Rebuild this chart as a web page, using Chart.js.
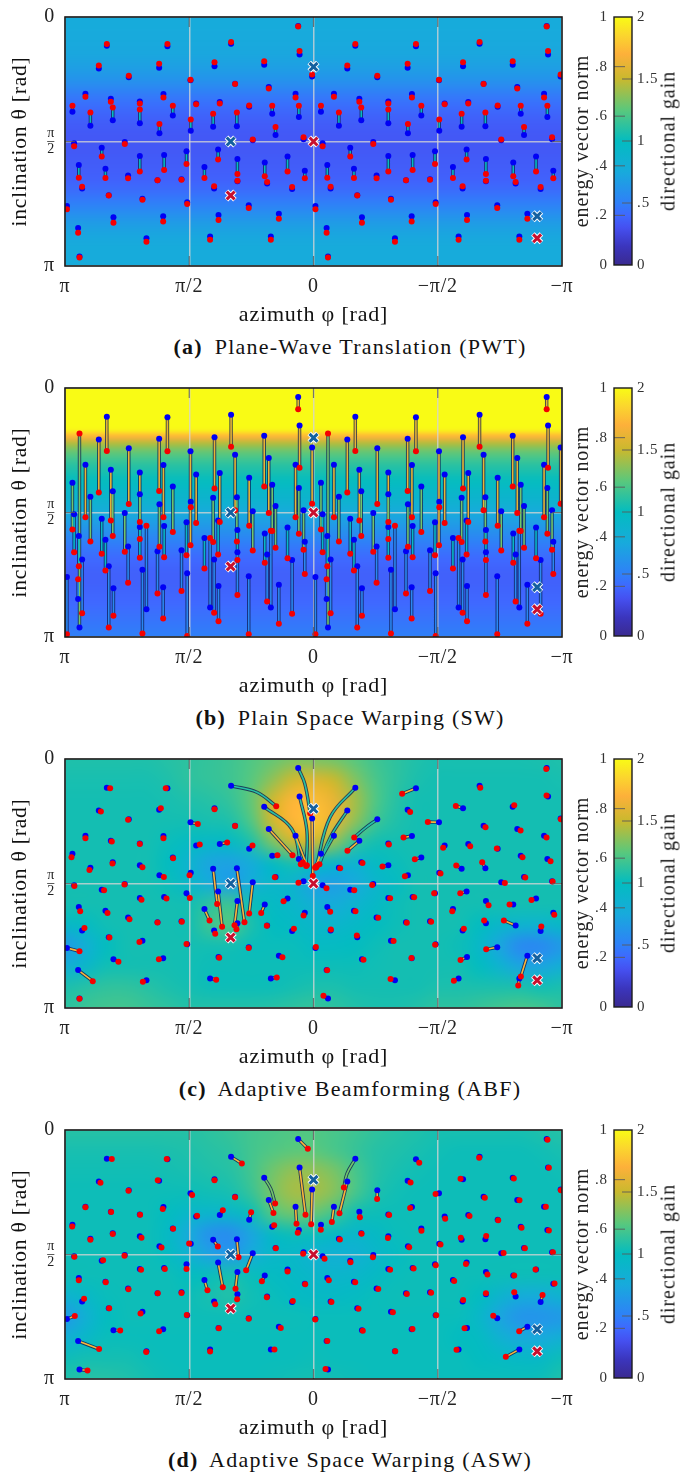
<!DOCTYPE html>
<html>
<head>
<meta charset="utf-8">
<title>Energy vector panels</title>
<script src="https://cdn.jsdelivr.net/npm/chart.js@4"></script>
<style>
body { margin: 0; background: #fff; }
#page { position: relative; width: 683px; height: 1472px; overflow: hidden; }
#page canvas { position: absolute; }
.caption { position: absolute; left: 0; width: 700px; height: 26px; line-height: 26px; text-align: center;
           font: 22px "Liberation Serif", serif; letter-spacing: 1.25px; color: #111; white-space: nowrap; }
.caption b { margin-right: 5px; }
.gain-title { position: absolute; left: 668px; font: 20px "Liberation Serif", serif; letter-spacing: .95px; color: #222;
              white-space: nowrap; transform: translate(-50%, -50%) rotate(-90deg); }
</style>
</head>
<body>
<div id="page"></div>
<script>
// azimuth and inclination are in degrees, the axes label them in radians
const xTickValues = [180, 90, 0, -90, -180];
const xTickLabels = ["π", "π/2", "0", "−π/2", "−π"];
const yTickValues = [0, 90, 180];
const yTickLabels = ["0", ["π", "–", "2"], "π"];
const normTicks = [0, .2, .4, .6, .8, 1];
const normLabels = ["0", ".2", ".4", ".6", ".8", "1"];
const gainTicks = [0, .5, 1, 1.5, 2];
const gainLabels = ["0", ".5", "1", "1.5", "2"];
const captionTags = ["(a)", "(b)", "(c)", "(d)"];
const captionTexts = ["Plane-Wave Translation (PWT)", "Plain Space Warping (SW)", "Adaptive Beamforming (ABF)", "Adaptive Space Warping (ASW)"];

// the two sound sources (blue) and the two sinks (red)
const crossBluePhi = [0, 60, -162];
const crossBlueTheta = [36, 90, 144];
const crossRedPhi = [0, 60, -162];
const crossRedTheta = [90, 129, 160];

// virtual loudspeaker layout, same in all four panels
const bluePhi = [
  11.1,10.1,35.7,71.7,59.7,105.8,149.7,169.5,155.5,111.8,
  133.8,89.1,56.8,32.4,1,165.2,108.7,13,146.8,125.8,
  67.9,85,174.6,29.9,101.9,145.4,10.6,46.6,125.8,161.6,
  55.5,72.7,111.6,88.9,27.5,173.4,136.7,44,153.4,69.1,
  7.2,125.8,92,108.2,55.1,18.8,170,150.7,35.3,79,
  6.3,134.3,95.6,55.1,113,33.6,72,167.6,15.5,148.3,
  123.9,91.5,46.9,178.6,144.9,108.9,68.8,25.1,170.5,121,74.9,30.9,
  -168.9,-169.9,-144.3,-108.3,-120.3,-74.2,-30.3,-10.5,-24.5,-68.2,
  -46.2,-90.9,-123.2,-147.6,-179,-14.8,-71.3,-167,-33.2,-54.2,
  -112.1,-95,-5.4,-150.1,-78.1,-34.6,-169.4,-133.4,-54.2,-18.4,
  -124.5,-107.3,-68.4,-91.1,-152.5,-6.6,-43.3,-136,-26.6,-110.9,
  -172.8,-54.2,-88,-71.8,-124.9,-161.2,-10,-29.3,-144.7,-101,
  -173.7,-45.7,-84.4,-124.9,-67,-146.4,-108,-12.4,-164.5,-31.7,
  -56.1,-88.5,-133.1,-1.4,-35.1,-71.1,-111.2,-154.9,-9.5,-59,-105.1,-149.1
];
const blueTheta = [
  6.5,27.1,34.6,35.6,19.4,21.1,20.8,173.2,37.3,36.6,
  43.6,45.8,48.2,50.6,43.1,55.5,55.7,55.5,59.1,61,
  61.5,62.5,68.5,70,71.2,74.6,72.2,64.9,76.8,78.7,
  79,79.4,84,82.3,85.3,91.3,90.3,89.1,94.5,95.7,
  88.4,100.5,97.1,99.8,102.7,100.8,107,109.7,105.1,108.5,
  111.2,114.6,117.2,118.7,118,120.4,124,124,124.3,128.8,
  131.3,133.9,136.1,136.6,144.8,144.1,143.1,142.2,152.6,160,158.6,158.6,
  6.5,27.1,34.6,35.6,19.4,21.1,20.8,173.2,37.3,36.6,
  43.6,45.8,48.2,50.6,43.1,55.5,55.7,55.5,59.1,61,
  61.5,62.5,68.5,70,71.2,74.6,72.2,64.9,76.8,78.7,
  79,79.4,84,82.3,85.3,91.3,90.3,89.1,94.5,95.7,
  88.4,100.5,97.1,99.8,102.7,100.8,107,109.7,105.1,108.5,
  111.2,114.6,117.2,118.7,118,120.4,124,124,124.3,128.8,
  131.3,133.9,136.1,136.6,144.8,144.1,143.1,142.2,152.6,160,158.6,158.6
];

// energy vector directions, panels a and b keep the azimuth of the loudspeaker
const redThetaA = [
  6.8,24.6,31.9,32.8,18.1,19.6,19.6,173.9,35,33.8,
  42.5,45.4,48.5,51.7,41.5,57.7,58.2,58.2,61.3,62.5,
  62.5,63,64.2,64.2,64.2,65.4,64.2,64,66.9,69,
  69,70,77.3,74.1,79.5,93.5,91.8,88.6,100.9,103.1,
  86.9,111.6,106.3,110.6,113.5,111.6,116.2,116.4,115.2,116.4,
  116.6,116.6,117.6,118.3,118.1,119.3,122.4,122.7,122.9,129,
  132.1,135.2,138.1,138.9,148.8,147.8,146.8,145.9,156,162.5,161.1,161.1,
  6.8,24.6,31.9,32.8,18.1,19.6,19.6,173.9,35,33.8,
  42.5,45.4,48.5,51.7,41.5,57.7,58.2,58.2,61.3,62.5,
  62.5,63,64.2,64.2,64.2,65.4,64.2,64,66.9,69,
  69,70,77.3,74.1,79.5,93.5,91.8,88.6,100.9,103.1,
  86.9,111.6,106.3,110.6,113.5,111.6,116.2,116.4,115.2,116.4,
  116.6,116.6,117.6,118.3,118.1,119.3,122.4,122.7,122.9,129,
  132.1,135.2,138.1,138.9,148.8,147.8,146.8,145.9,156,162.5,161.1,161.1
];
const redThetaB = [
  15.3,57.6,71.2,72.7,42.4,45.8,45.5,32.9,75.6,74.4,
  83.8,113.6,88.4,90.3,83.6,93.5,93.5,93.5,95.7,96.9,
  96.9,97.6,102.2,103.4,104.1,107,105.4,99.5,109.2,110.9,
  110.9,111.4,114.8,86.2,115.5,118.7,118.4,117.5,119.9,120.4,
  117,122.8,120.9,122.3,124.3,123,128.9,132,126.4,130.5,
  134.4,140.7,146.8,149.7,148.5,154.3,162.5,162.8,163.2,173.2,
  177.5,179.2,178,178,164.7,166.6,168.6,170.5,138.3,99.5,108.5,103.2,
  15.3,57.6,71.2,72.7,42.4,45.8,45.5,32.9,75.6,74.4,
  83.8,113.6,88.4,90.3,83.6,93.5,93.5,93.5,95.7,96.9,
  96.9,97.6,102.2,103.4,104.1,107,105.4,99.5,109.2,110.9,
  110.9,111.4,114.8,86.2,115.5,118.7,118.4,117.5,119.9,120.4,
  117,122.8,120.9,122.3,124.3,123,128.9,132,126.4,130.5,
  134.4,140.7,146.8,149.7,148.5,154.3,162.5,162.8,163.2,173.2,
  177.5,179.2,178,178,164.7,166.6,168.6,170.5,138.3,99.5,108.5,103.2
];
const redPhiC = [
  2.4,5.3,9.2,71.7,27,107,147.3,169.5,154,110.6,
  134.3,83.8,56.8,15.2,.5,165.2,108.7,4.8,146.1,125.8,
  62.5,82.4,175.3,26.1,101.7,145.6,7.7,44.2,123.9,162.3,
  50,69.8,108.4,89.8,28,173.2,136.9,46.6,151.7,66.2,
  10.9,124.6,89.6,106.5,57.2,21.7,169,149.2,37.9,75.3,
  7.2,133.3,95.4,55.8,113,33.8,71.2,165.9,14.2,147.8,
  126.1,92,46.9,169.5,141.3,112,68.3,22.5,159.9,123.6,70.5,26.6,
  -168.6,-168.8,-145.4,-103.1,-120.8,-64.2,-1.9,-7.2,-4.3,-70,
  -29.5,-82.8,-124.6,-150,-179.2,-2.4,-65.2,-168.8,-24.6,-54.6,
  -113.5,-93.9,-1.2,-151.4,-73.4,-35.5,-171.7,-132.8,-50,-19.3,
  -122.2,-103.4,-66.2,-92,-153.4,-9.4,-42.5,-138.6,-29.5,-106.3,
  -173.2,-55.5,-87.4,-72.9,-126.8,-157.9,-12.1,-30.4,-142,-100.5,
  -174.4,-46.9,-85.2,-123.6,-67.6,-137.9,-108.9,-12.6,-165,-31.4,
  -58,-88.1,-125.1,-1.7,-36.2,-71,-106.5,-150.2,-9.9,-55.8,-101.7,-148.3
];
const redThetaC = [
  39.2,77.3,76,36.3,34.1,21.1,21.1,173.4,38,35.6,
  44,47,48.4,69.5,84.5,57.2,57.2,76.8,59.6,61.5,
  60.3,61.8,71,69.5,71.7,75.6,74.8,62.5,78.2,80.2,
  118,104.9,85.3,84,85.5,91.8,90.8,111.6,94.9,121.3,
  89.4,101.7,100.5,100.8,120.1,102.9,110,111.4,111.4,116.7,
  113.1,115.8,117.7,123,118.2,120.6,126.4,122.1,122.8,129.1,
  132.2,133.7,136.6,139,146.5,144.8,143.6,143.4,160.6,161.1,159.6,157.9,
  7.3,26.4,33.4,33.9,20.8,25.2,78.5,171.2,76,38.3,
  56.7,45.5,49.4,51.6,43.6,77.3,56.7,56.7,66.4,61.8,
  63,64.2,78.5,71,72.4,75.1,73.9,64.7,77.7,79,
  74.6,77,84.8,82.8,85.7,93.5,91.1,89.6,94.9,97.1,
  88.6,100.7,97.1,100,105.8,102,110.4,110,105.1,110,
  112.6,114.8,117.7,116.7,118.4,116.7,122.8,123.3,121.1,127.6,
  131.5,134.2,137.6,135.9,145.1,143.9,145.3,157.2,152.8,159.1,160.3,163.7
];
const redPhiD = [
  4.1,5.8,27.8,71.7,51.9,106.3,146.1,163.7,154.3,112.8,
  134,87.9,56.8,29,1.7,165.2,109.2,12.3,146.6,125.6,
  65.7,84.3,174.8,28.5,101.7,145.4,11.4,45.2,124.6,161.6,
  54.3,69.3,110.1,90.1,27.3,173.2,136.9,48.8,152.4,65.7,
  7.5,124.9,92,107.7,56.5,18.8,170,150.5,37.4,76.8,
  6,134,95.6,55.3,112.8,33.8,71.2,166.2,15,148,
  125.3,91.8,46.9,172.9,140,111.8,68.6,23.7,155.3,121.2,74.9,28.3,
  -169.5,-170.5,-145.1,-106.5,-120,-76.6,-22,-8.7,-18.8,-70.3,
  -46.1,-88.4,-124.1,-149.2,-179.2,-13.3,-70,-168.3,-33.6,-54.8,
  -113,-95.4,-5.3,-150.7,-78.2,-34.8,-170.5,-133.8,-53.9,-19.1,
  -125.1,-106.7,-69.3,-92,-153.1,-8,-43,-137.7,-26.8,-110.4,
  -173.4,-55.5,-88.6,-72.5,-126,-160.8,-11.1,-30.2,-145.4,-101.9,
  -174.6,-46.9,-85.2,-124.9,-67.6,-145.4,-108.4,-13,-165.9,-32.6,
  -57.5,-88.9,-130.2,-1.2,-35.7,-71.7,-109.4,-149,-10,-59.2,-103.6,-139.3
];
const redThetaD = [
  13.5,61.2,53.2,36.3,24.2,21,21,173.9,38.2,36.3,
  44,46.9,48.6,60,68.2,55.9,57.1,67.7,59.3,61.2,
  58.1,62,69.7,68.9,71.4,75.2,74.3,59.5,77.9,79.3,
  91.9,84.2,84.9,82,85.4,91.7,90.9,101.4,94.1,113.7,
  89.5,101.1,100.4,100.4,114.7,102.3,108.6,110.1,109.3,115.9,
  111.5,115.1,117.8,122.4,118,120.9,126,121.9,123.6,128.9,
  132.6,133.8,136.4,134.5,144.9,145.4,143.4,143.2,158.4,160.4,160.1,158.7,
  7,27.3,35.1,35.3,20.1,23.7,41.6,172.7,60.2,38,
  49.8,46.2,48.9,50.8,43.5,66.5,56.4,55.4,63.1,61.4,
  62.2,64.1,72.1,70.6,72.8,75,72.6,65.3,78.1,79.1,
  76.7,77.9,84.7,82.7,85.4,93.1,91.9,89,95.6,96.8,
  88.3,101.1,97.7,100.1,104.5,100.9,108.6,110,105.2,109.1,
  111,114.9,117.6,118,118.5,117.3,122.9,124.3,119.3,129.2,
  131.8,134,134.2,136.9,145.1,143.9,143.4,145.4,152.6,159.9,158.9,164
];

// the paths that visibly bend get one point halfway
const bendIndexC = [0, 1, 2, 4, 78, 80, 82, 87];
const bendPhiC = [6.3, 4.8, 15.7, 41, -12.1, -12.1, -37.4, -7.2];
const bendThetaC = [17.9, 51.8, 50.6, 24, 42, 56.7, 49.9, 68.8];
const bendIndexD = [2, 78];
const bendPhiD = [30.9, -24.2];
const bendThetaD = [42.6, 31.7];

// directional gain behind the points
const gainA = [.76,.75,.72,.62,.45,.36,.33,.35,.38,.5,.68,.76,.76];   // one value every 15 degrees of inclination
const gainB = [2,2,2,2,2,2,1.98,1.72,1.45,1.3,1.2,1.12,1.07,1.02,.98,.92,.88,.82,.76,.7,.64,.58,.52,.47,.43,.4,.38,.37,.37,.38,.39,.4,.42,.44,.46,.48,.5];   // every 5 degrees
// rows every 15 degrees of inclination, columns every 15 degrees of azimuth from 180 to -180
const gainC = [
  [1.08,1.08,1.08,1.08,1.08,1.1,1.12,1.14,1.17,1.22,1.27,1.32,1.32,1.3,1.24,1.17,1.12,1.08,1.06,1.06,1.06,1.06,1.06,1.07,1.08],
  [1.06,1.06,1.06,1.06,1.06,1.08,1.12,1.14,1.17,1.24,1.37,1.52,1.57,1.5,1.34,1.2,1.12,1.07,1.05,1.05,1.05,1.05,1.05,1.05,1.06],
  [1.05,1.05,1.05,1.05,1.05,1.06,1.08,1.1,1.14,1.27,1.52,1.72,1.75,1.62,1.42,1.22,1.1,1.05,1.05,1.05,1.05,1.05,1.05,1.05,1.05],
  [1.05,1.05,1.05,1.05,1.05,1.05,1.05,1.06,1.08,1.22,1.52,1.72,1.78,1.62,1.37,1.17,1.08,1.05,1.05,1.05,1.05,1.05,1.05,1.05,1.05],
  [1.05,1.05,1.05,1.05,1.05,1.02,.98,.95,.97,1.08,1.32,1.52,1.52,1.37,1.14,1.05,1.05,1.05,1.05,1.05,1.05,1.05,1.05,1.05,1.05],
  [1.05,1.05,1.05,1.05,1.05,1,.87,.72,.7,.78,.97,1.07,1.02,.92,.87,.97,1.02,1.05,1.05,1.05,1.05,1.05,1.05,1.05,1.05],
  [1.05,1.05,1.05,1.05,1.05,1.02,.92,.78,.68,.8,.92,.88,.7,.68,.75,.9,.98,1.05,1.05,1.05,1.05,1.05,1.05,1.05,1.05],
  [1.05,1.05,1.05,1.05,1.05,1.05,1.05,1.12,1.17,1.03,.97,.92,.82,.78,.87,.95,1.03,1.05,1.05,1.05,1.05,1.05,1.05,1.05,1.05],
  [.95,.98,1.04,1.05,1.05,1.05,1.05,1.17,1.22,1.07,1,.97,.92,.9,.95,1,1.03,1.05,1.05,1.05,1,.92,.87,.87,.95],
  [.65,.82,1,1.05,1.05,1.05,1.05,1.05,1.05,1.02,1.02,1.02,.98,.98,1,1.03,1.05,1.05,1.05,1.03,.94,.72,.55,.55,.65],
  [.82,.92,1.04,1.05,1.05,1.05,1.04,1.03,1.03,1.03,1.03,1.03,1.03,1.03,1.03,1.04,1.05,1.05,1.05,1.05,1,.87,.72,.72,.82],
  [1.07,1.1,1.13,1.13,1.1,1.07,1.05,1.03,1.03,1.03,1.03,1.05,1.07,1.07,1.05,1.05,1.05,1.05,1.07,1.07,1.07,1.07,1.07,1.04,1.07],
  [1.12,1.16,1.18,1.18,1.15,1.12,1.09,1.09,1.09,1.09,1.1,1.12,1.14,1.12,1.09,1.07,1.07,1.09,1.12,1.12,1.15,1.18,1.2,1.18,1.12]
];
const gainD = [
  [1.1,1.1,1.1,1.1,1.1,1.1,1.1,1.12,1.15,1.18,1.2,1.22,1.22,1.2,1.17,1.13,1.1,1.08,1.06,1.06,1.06,1.06,1.06,1.08,1.1],
  [1.06,1.06,1.06,1.06,1.06,1.07,1.08,1.1,1.12,1.18,1.22,1.25,1.25,1.2,1.15,1.1,1.08,1.06,1.04,1.03,1.03,1.03,1.03,1.04,1.06],
  [1.04,1.04,1.04,1.04,1.04,1.05,1.06,1.08,1.1,1.18,1.3,1.38,1.38,1.32,1.2,1.1,1.06,1.04,1.03,1.03,1.03,1.03,1.03,1.03,1.04],
  [1.03,1.03,1.03,1.03,1.03,1.03,1.03,1.04,1.06,1.15,1.32,1.42,1.42,1.35,1.2,1.08,1.04,1.03,1.03,1.03,1.03,1.03,1.03,1.03,1.03],
  [1.03,1.03,1.03,1.03,1.03,1,.93,.9,.92,1.03,1.22,1.3,1.28,1.18,1.05,1.03,1.03,1.03,1.03,1.03,1.03,1.03,1.03,1.03,1.03],
  [1.03,1.03,1.03,1.03,1.03,.96,.75,.6,.58,.72,.96,1.03,1.02,.96,.92,.96,1.02,1.03,1.03,1.03,1.03,1.03,1.03,1.03,1.03],
  [1.03,1.03,1.03,1.03,1.03,.98,.85,.7,.65,.78,.93,.93,.86,.83,.83,.92,.98,1.03,1.03,1.03,1.03,1.03,1.03,1.03,1.03],
  [1.03,1.03,1.03,1.03,1.03,1.03,1,1.02,1.06,1.02,.98,.96,.92,.9,.92,.96,1.02,1.03,1.03,1.03,1.03,1.03,1.03,1.03,1.03],
  [.87,.94,1.02,1.03,1.03,1.03,1.03,1.06,1.09,1.04,1.02,.98,.96,.96,.98,1.02,1.03,1.03,1.03,1.03,1,.88,.78,.78,.87],
  [.65,.83,1,1.03,1.03,1.03,1.03,1.03,1.03,1.03,1.03,1.03,1.02,1.02,1.02,1.02,1.02,1.02,1.02,1.02,.93,.72,.62,.62,.65],
  [.82,.93,1.02,1.02,1.02,1.02,1.02,1.02,1.02,1.02,1.02,1.02,1.02,1.02,1.02,1.02,1.02,1.02,1.02,1,.98,.85,.75,.75,.82],
  [1.03,1.05,1.05,1.05,1.03,1.02,1.02,1.02,1.02,1.02,1.02,1.02,1.03,1.02,1.02,1.02,1.02,1.02,1.02,1.02,1,.97,.95,.95,1.03],
  [1.08,1.1,1.1,1.08,1.05,1.03,1.02,1.02,1.02,1.02,1.03,1.04,1.05,1.04,1.03,1.02,1.02,1.02,1.02,1.02,1.02,1.02,1.02,1.03,1.08]
];

// colormap of the bars, by gain
const colorStops = [0, .15, .3, .4, .5, .75, 1, 1.25, 1.5, 1.7, 1.85, 2];
const colorValues = ["#3a2a90", "#3b35bd", "#4550f0", "#3f68ff", "#2f80f8", "#18aadc", "#03bcc0", "#5ac87c", "#c9b92e", "#fdb03a", "#fbd52e", "#f9fb15"];

const serif = '"Liberation Serif", serif';
const panelTops = [17, 388, 759, 1130];
const page = document.getElementById('page');

function hexToRgb(h) {
    return [parseInt(h.slice(1, 3), 16), parseInt(h.slice(3, 5), 16), parseInt(h.slice(5, 7), 16)];
}

function gainColor(v) {
    let i = 0;
    while (i < colorStops.length - 2 && v > colorStops[i + 1]) i++;
    const t = Math.min(1, Math.max(0, (v - colorStops[i]) / (colorStops[i + 1] - colorStops[i])));
    const a = hexToRgb(colorValues[i]), b = hexToRgb(colorValues[i + 1]);
    return `rgb(${a.map((c, k) => Math.round(c + (b[k] - c) * t)).join(',')})`;
}

// small picture of the gain grid, stretched onto the plot through the scales
function fieldPlugin(rows) {
    const nRows = rows.length, nCols = rows[0].length;
    const off = document.createElement('canvas');
    off.width = nCols;
    off.height = nRows;
    const octx = off.getContext('2d');
    rows.forEach((row, r) => row.forEach((v, c) => {
        octx.fillStyle = gainColor(v);
        octx.fillRect(c, r, 1, 1);
    }));
    return {
        id: 'gainField',
        beforeDraw(chart) {
            const { ctx, chartArea: a, scales: { x, y } } = chart;
            const cw = nCols > 1 ? a.width / (nCols - 1) : a.width;
            const ch = a.height / (nRows - 1);
            const left = nCols > 1 ? x.getPixelForValue(180) - cw / 2 : a.left;
            ctx.letterSpacing = '0.8px';
            ctx.save();
            ctx.beginPath();
            ctx.rect(a.left, a.top, a.width, a.height);
            ctx.clip();
            ctx.imageSmoothingEnabled = true;
            ctx.imageSmoothingQuality = 'high';
            ctx.drawImage(off, left, y.getPixelForValue(0) - ch / 2, cw * nCols, ch * nRows);
            ctx.restore();
        }
    };
}

const framePlugin = {
    id: 'frame',
    afterDraw(chart) {
        const { ctx, chartArea: a, scales: { x, y } } = chart;
        ctx.save();
        ctx.strokeStyle = 'rgba(90,90,90,.8)';
        ctx.lineWidth = 1.2;
        [90, 0, -90].forEach(v => {
            const px = x.getPixelForValue(v);
            ctx.beginPath();
            ctx.moveTo(px, a.top); ctx.lineTo(px, a.top + 10);
            ctx.moveTo(px, a.bottom); ctx.lineTo(px, a.bottom - 10);
            ctx.stroke();
        });
        const py = y.getPixelForValue(90);
        ctx.beginPath();
        ctx.moveTo(a.left, py); ctx.lineTo(a.left + 10, py);
        ctx.moveTo(a.right, py); ctx.lineTo(a.right - 10, py);
        ctx.stroke();
        ctx.strokeStyle = '#1c1c1c';
        ctx.lineWidth = 1.6;
        ctx.strokeRect(a.left, a.top, a.width, a.height);
        ctx.restore();
    }
};

const colorbarPlugin = {
    id: 'colorbar',
    beforeDraw(chart) {
        const { ctx, chartArea: a, scales: { norm, gain } } = chart;
        ctx.letterSpacing = '0.9px';
        const grad = ctx.createLinearGradient(0, gain.getPixelForValue(0), 0, gain.getPixelForValue(2));
        colorStops.forEach((s, i) => grad.addColorStop(s / 2, colorValues[i]));
        ctx.save();
        ctx.fillStyle = grad;
        ctx.fillRect(a.left, a.top, a.width, a.height);
        ctx.strokeStyle = 'rgba(90,90,90,.75)';
        ctx.lineWidth = 1.2;
        normTicks.slice(1, -1).forEach(v => {
            const py = norm.getPixelForValue(v);
            ctx.beginPath(); ctx.moveTo(a.left, py); ctx.lineTo(a.left + 11, py); ctx.stroke();
        });
        gainTicks.slice(1, -1).forEach(v => {
            const py = gain.getPixelForValue(v);
            ctx.beginPath(); ctx.moveTo(a.right, py); ctx.lineTo(a.right - 10, py); ctx.stroke();
        });
        ctx.strokeStyle = '#1c1c1c';
        ctx.lineWidth = 1.4;
        ctx.strokeRect(a.left, a.top, a.width, a.height);
        ctx.restore();
    }
};

function addCanvas(left, top, w, h) {
    const c = document.createElement('canvas');
    c.width = w;
    c.height = h;
    c.style.left = left + 'px';
    c.style.top = top + 'px';
    c.style.width = w + 'px';
    c.style.height = h + 'px';
    page.appendChild(c);
    return c.getContext('2d');
}

// blue -> (bend) -> red, a null between two paths breaks the line
function buildPaths(redPhi, redTheta, bendIndex, bendPhi, bendTheta, gainOfPath) {
    const points = [], colors = [];
    bluePhi.forEach((phi, i) => {
        const color = gainColor(gainOfPath(i, bendIndex.includes(i)));
        points.push({ x: phi, y: blueTheta[i] });
        colors.push(color);
        const b = bendIndex.indexOf(i);
        if (b >= 0) {
            points.push({ x: bendPhi[b], y: bendTheta[b] });
            colors.push(color);
        }
        points.push({ x: redPhi[i], y: redTheta[i] });
        colors.push(color);
        points.push({ x: null, y: null });
        colors.push(color);
    });
    return { points, colors };
}

function toPoints(phis, thetas) {
    return phis.map((x, i) => ({ x, y: thetas[i] }));
}

// the tick padding would otherwise push the plot area in
function noOverhang(s) {
    s.paddingTop = s.paddingBottom = s.paddingLeft = s.paddingRight = 0;
}

function drawPanel(p, n) {
    const top = panelTops[n];
    const paths = buildPaths(p.redPhi, p.redTheta, p.bendIndex, p.bendPhi, p.bendTheta, p.pathGain);
    new Chart(addCanvas(0, top - 16, 580, 327), {
        type: 'scatter',
        data: {
            datasets: [
                { data: paths.points, showLine: true, pointRadius: 0, tension: .4, spanGaps: false, borderWidth: 3.4, borderColor: 'rgba(12,28,80,.8)', order: 6 },
                { data: paths.points, showLine: true, pointRadius: 0, tension: .4, spanGaps: false, borderWidth: 1.6, borderColor: '#fff',
                  segment: { borderColor: c => paths.colors[c.p0DataIndex] }, order: 5 },
                { data: toPoints(bluePhi, blueTheta), pointRadius: 3, pointBackgroundColor: '#0000f5', pointBorderWidth: 0, order: 4 },
                { data: toPoints(p.redPhi, p.redTheta), pointRadius: 3, pointBackgroundColor: '#f50000', pointBorderWidth: 0, order: 3 },
                { data: toPoints(crossBluePhi.concat(crossRedPhi), crossBlueTheta.concat(crossRedTheta)), pointStyle: 'crossRot', pointRadius: 6, pointBorderWidth: 5, pointBorderColor: '#fff', order: 2 },
                { data: toPoints(crossBluePhi, crossBlueTheta), pointStyle: 'crossRot', pointRadius: 5.6, pointBorderWidth: 3, pointBorderColor: '#14609f', order: 1 },
                { data: toPoints(crossRedPhi, crossRedTheta), pointStyle: 'crossRot', pointRadius: 5.6, pointBorderWidth: 3, pointBorderColor: '#c8102e', order: 0 }
            ]
        },
        options: {
            responsive: false,
            animation: false,
            devicePixelRatio: 1,
            events: [],
            layout: { autoPadding: false, padding: { top: 16, right: 18 } },
            plugins: { legend: { display: false }, tooltip: { enabled: false } },
            scales: {
                x: {
                    type: 'linear', reverse: true, min: -180, max: 180,
                    afterBuildTicks: s => { s.ticks = xTickValues.map(value => ({ value })); },
                    afterFit: s => { s.height = 62; noOverhang(s); },
                    grid: { color: 'rgba(212,212,212,.78)', lineWidth: 1.5, drawTicks: false },
                    border: { display: false },
                    ticks: {
                        autoSkip: false, maxRotation: 0, padding: 9, color: '#222',
                        font: { family: serif, size: 20 },
                        callback: v => xTickLabels[xTickValues.indexOf(v)]
                    },
                    title: { display: true, text: 'azimuth φ [rad]', color: '#111', padding: 0, font: { family: serif, size: 22 } }
                },
                y: {
                    type: 'linear', reverse: true, min: 0, max: 180,
                    afterBuildTicks: s => { s.ticks = yTickValues.map(value => ({ value })); },
                    afterFit: s => { s.width = 65; noOverhang(s); },
                    grid: { color: 'rgba(212,212,212,.78)', lineWidth: 1.5, drawTicks: false },
                    border: { display: false },
                    ticks: {
                        autoSkip: false, padding: 10, color: '#222',
                        font: c => c.tick && c.tick.value === 90 ? { family: serif, size: 14, lineHeight: .55 } : { family: serif, size: 20 },
                        callback: v => yTickLabels[yTickValues.indexOf(v)]
                    },
                    title: { display: true, text: 'inclination θ [rad]', color: '#111', padding: { top: 7, bottom: 0 }, font: { family: serif, size: 21.5 } }
                }
            }
        },
        plugins: [fieldPlugin(p.field), framePlugin]
    });

    // colorbar, two axes on one bar
    new Chart(addCanvas(570, top - 16, 113, 290), {
        type: 'scatter',
        data: { datasets: [{ data: [], yAxisID: 'norm' }, { data: [], yAxisID: 'gain' }] },
        options: {
            responsive: false,
            animation: false,
            devicePixelRatio: 1,
            events: [],
            layout: { autoPadding: false, padding: { top: 16, bottom: 26 } },
            plugins: { legend: { display: false }, tooltip: { enabled: false } },
            scales: {
                x: { display: false },
                norm: {
                    type: 'linear', position: 'left', min: 0, max: 1,
                    afterBuildTicks: s => { s.ticks = normTicks.map(value => ({ value })); },
                    afterFit: s => { s.width = 44; noOverhang(s); },
                    grid: { display: false, drawTicks: false }, border: { display: false },
                    ticks: { autoSkip: false, padding: 6, color: '#333', font: { family: serif, size: 15 }, callback: v => normLabels[normTicks.indexOf(v)] },
                    title: { display: true, text: 'energy vector norm', color: '#222', padding: { top: 1, bottom: 0 }, font: { family: serif, size: 20 } }
                },
                gain: {
                    type: 'linear', position: 'right', min: 0, max: 2,
                    afterBuildTicks: s => { s.ticks = gainTicks.map(value => ({ value })); },
                    afterFit: s => { s.width = 51; noOverhang(s); },
                    grid: { display: false, drawTicks: false }, border: { display: false },
                    ticks: { autoSkip: false, padding: 5, color: '#333', font: { family: serif, size: 15 }, callback: v => gainLabels[gainTicks.indexOf(v)] }
                }
            }
        },
        plugins: [colorbarPlugin]
    });

    const gainTitle = document.createElement('div');
    gainTitle.className = 'gain-title';
    gainTitle.style.top = (top + 124) + 'px';
    gainTitle.textContent = 'directional gain';
    page.appendChild(gainTitle);

    const cap = document.createElement('div');
    cap.className = 'caption';
    cap.style.top = (top + 317) + 'px';
    const tag = document.createElement('b');
    tag.textContent = captionTags[n];
    cap.appendChild(tag);
    cap.appendChild(document.createTextNode(' ' + captionTexts[n]));
    page.appendChild(cap);
}

drawPanel({
    redPhi: bluePhi, redTheta: redThetaA,
    bendIndex: [], bendPhi: [], bendTheta: [],
    field: gainA.map(v => [v]),
    pathGain: () => 1
}, 0);

drawPanel({
    redPhi: bluePhi, redTheta: redThetaB,
    bendIndex: [], bendPhi: [], bendTheta: [],
    field: gainB.map(v => [v]),
    pathGain: i => {
        const mid = (blueTheta[i] + redThetaB[i]) / 2;
        return mid < 85 ? 1.62 : mid < 105 ? 1.3 : mid < 122 ? .95 : .55;
    }
}, 1);

drawPanel({
    redPhi: redPhiC, redTheta: redThetaC,
    bendIndex: bendIndexC, bendPhi: bendPhiC, bendTheta: bendThetaC,
    field: gainC,
    pathGain: (i, bent) => bent ? 1.1 : 1.72
}, 2);

drawPanel({
    redPhi: redPhiD, redTheta: redThetaD,
    bendIndex: bendIndexD, bendPhi: bendPhiD, bendTheta: bendThetaD,
    field: gainD,
    pathGain: (i, bent) => bent ? 1.3 : 1.72
}, 3);
</script>
</body>
</html>
